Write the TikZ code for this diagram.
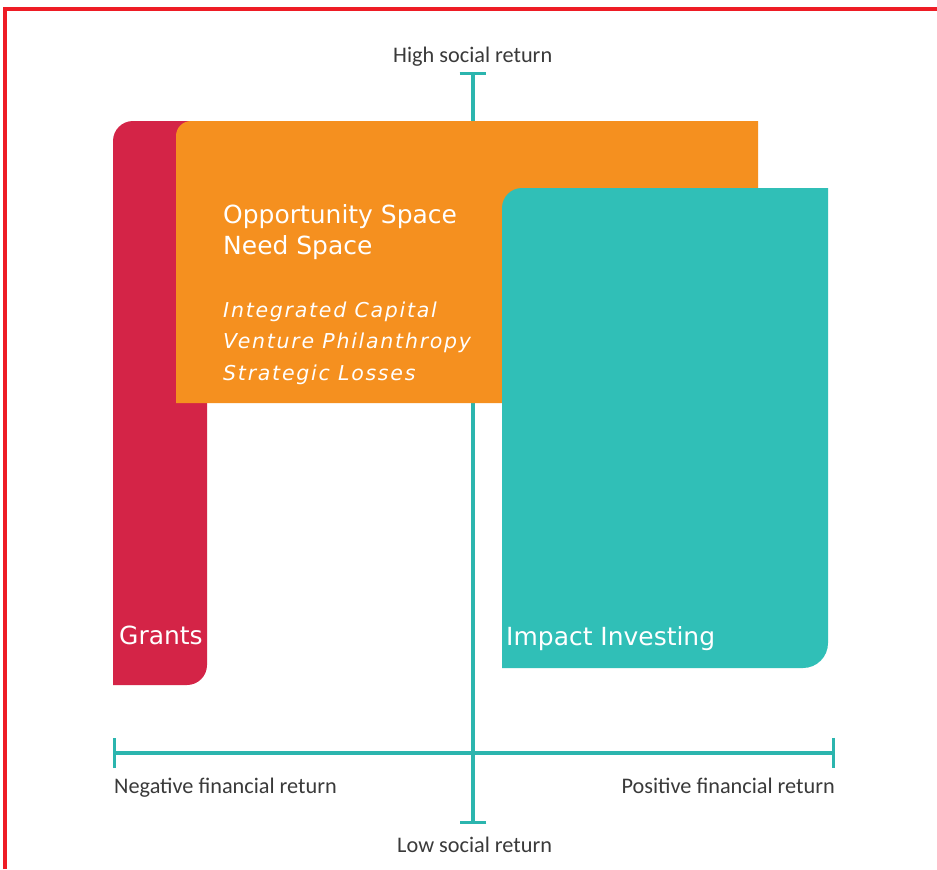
\documentclass[tikz,border=0pt]{standalone}
\usepackage{fontspec}
\setmainfont{DejaVu Sans}
\newfontfamily\labelfont{Carlito}
\newfontfamily\boxfont{DejaVu Sans}
\newfontfamily\itfont[LetterSpace=8.5]{DejaVu Sans}
\usetikzlibrary{arrows.meta}
\definecolor{gred}{HTML}{D42447}
\definecolor{gorange}{HTML}{F5901F}
\definecolor{gteal}{HTML}{30BFB7}
\definecolor{axteal}{HTML}{2BB5AE}
\definecolor{labgray}{HTML}{3A3A3A}
\definecolor{framered}{HTML}{EE1C25}
\tikzset{
  axisline/.style={draw=axteal, line width=2.8pt},
  lab/.style={inner sep=0pt, text=labgray, font=\labelfont\fontsize{19}{22}\selectfont},
  boxtext/.style={inner sep=0pt, text=white, font=\boxfont\fontsize{21.3}{25}\selectfont},
  ittext/.style={inner sep=0pt, text=white, font=\itfont\itshape\fontsize{17.5}{21}\selectfont},
}
\begin{document}
\begin{tikzpicture}[x=0.03cm,y=-0.03cm]
\useasboundingbox (0,0) rectangle (937,869);
\fill[white] (0,0) rectangle (937,869);
% frame
\draw[framered, line width=2.6pt] (5,869) -- (5,9) -- (937,9);
% axes
\coordinate (vt) at (473,72);
\coordinate (vb) at (473,824);
\coordinate (hl) at (113,753);
\coordinate (hr) at (835,753);
\draw[axisline, {Bar[width=23pt]}-{Bar[width=23pt]}] (vt) -- (vb);
\draw[axisline, {Bar[width=26pt]}-{Bar[width=26pt]}] (hl) -- (hr);
% boxes
\fill[gred] (113,685) -- (113,141) arc(180:270:20) -- (207,121) -- (207,665) arc(0:90:20) -- cycle;
\fill[gorange] (176,403) -- (176,136) arc(180:270:15) -- (758,121) -- (758,403) -- cycle;
\fill[gteal] (502,668) -- (502,208) arc(180:270:20) -- (828,188) -- (828,643) arc(0:90:25) -- cycle;
% box texts
\node[boxtext, anchor=base west] (opp) at (223,223) {Opportunity Space};
\node[boxtext, anchor=base west] (need) at (223,254) {Need Space};
\node[ittext, anchor=base west] (ic) at (223,317) {Integrated Capital};
\node[ittext, anchor=base west] (vp) at (223,348) {Venture Philanthropy};
\node[ittext, anchor=base west] (sl) at (223,380) {Strategic Losses};
\node[boxtext, anchor=base west] (grants) at (119,644) {Grants};
\node[boxtext, anchor=base west] (impact) at (506,645) {Impact Investing};
% axis labels
\node[lab, anchor=base west] (high) at (393,62) {High social return};
\node[lab, anchor=base west] (low) at (397,852) {Low social return};
\node[lab, anchor=base west] (neg) at (114,793) {Negative financial return};
\node[lab, anchor=base east] (pos) at (835,793) {Positive financial return};
\end{tikzpicture}
\end{document}
